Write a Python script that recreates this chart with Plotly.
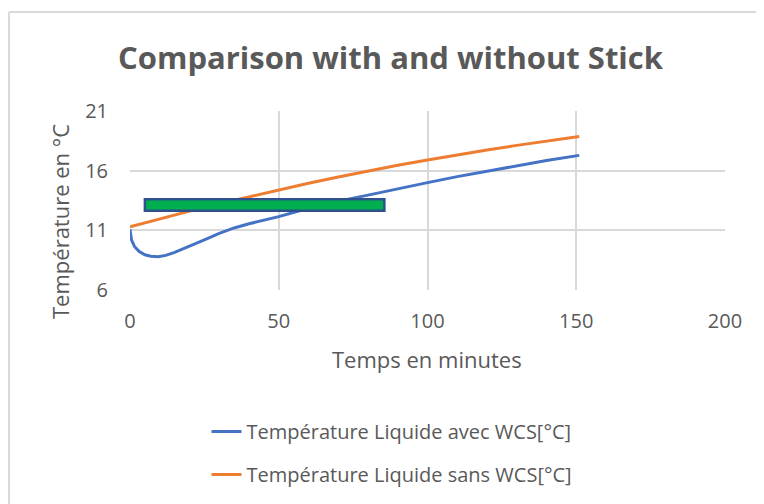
import plotly.graph_objects as go

# ---- data ----
blue_x = [0, 0.5, 1.5, 3, 5, 7, 9.5, 12, 15, 20, 25, 30, 35, 40, 45, 50, 60, 70, 80, 90, 100, 110, 120, 130, 140, 151]
blue_y = [11.1, 10.2, 9.65, 9.25, 8.95, 8.83, 8.78, 8.9, 9.15, 9.65, 10.2, 10.75, 11.2, 11.55, 11.85, 12.15, 12.85,
          13.45, 13.95, 14.5, 15.0, 15.5, 15.95, 16.4, 16.85, 17.28]
orange_x = [0, 10, 20, 30, 40, 50, 60, 70, 80, 90, 100, 110, 120, 130, 140, 151]
orange_y = [11.3, 11.97, 12.61, 13.23, 13.82, 14.39, 14.94, 15.47, 15.97, 16.45, 16.9, 17.33, 17.74, 18.12, 18.48,
            18.86]
stick_x = [5, 85.5]
stick_y = [12.65, 13.6]
x_ticks = [0, 50, 100, 150, 200]
y_ticks = [6, 11, 16, 21]
name_blue = "Température Liquide avec WCS[°C]"
name_orange = "Température Liquide sans WCS[°C]"

FONT = "Open Sans"
GREY = "#595959"
GRID = "#D9D9D9"

fig = go.Figure()
fig.add_trace(go.Scatter(x=blue_x, y=blue_y, mode="lines", name=name_blue, legendgroup="a",
                         line=dict(color="#4472C4", width=3)))
fig.add_trace(go.Scatter(x=orange_x, y=orange_y, mode="lines", name=name_orange, legendgroup="b",
                         line=dict(color="#ED7D31", width=3)))

fig.add_shape(type="rect", xref="x", yref="y", x0=stick_x[0], x1=stick_x[1], y0=stick_y[0], y1=stick_y[1],
              fillcolor="#00B050", line=dict(color="#2F528F", width=2.5), layer="above")

OFF = 8  # page body margin
W, H = 764 - OFF, 504 - OFF
L, T = 130 - OFF, 111 - OFF
R = W - (725 - OFF)
B = H - (290 - OFF)
pw, ph = W - L - R, H - T - B


def px2x(px):
    return (px - OFF - L) / pw


def py2y(py):
    return (H - B - (py - OFF)) / ph


# chart frame (left and top borders)
fig.add_shape(type="line", xref="paper", yref="paper", x0=px2x(9), x1=px2x(9), y0=py2y(12), y1=py2y(520),
              line=dict(color=GRID, width=2))
fig.add_shape(type="line", xref="paper", yref="paper", x0=px2x(9), x1=px2x(780), y0=py2y(12), y1=py2y(12),
              line=dict(color=GRID, width=2))

fig.add_annotation(text="<b>Comparison with and without Stick</b>", xref="paper", yref="paper",
                   x=px2x(391), y=py2y(57), xanchor="center", yanchor="middle", showarrow=False,
                   font=dict(family=FONT, size=31, color=GREY))
fig.add_annotation(text="Temps en minutes", xref="paper", yref="paper", x=px2x(427), y=py2y(359),
                   xanchor="center", yanchor="middle", showarrow=False,
                   font=dict(family=FONT, size=22, color=GREY))
fig.add_annotation(text="Température en °C", xref="paper", yref="paper", x=px2x(60), y=py2y(222),
                   xanchor="center", yanchor="middle", textangle=-90, showarrow=False,
                   font=dict(family=FONT, size=22, color=GREY))

fig.update_xaxes(range=[0, 200], tickvals=x_ticks, showgrid=True, gridcolor=GRID, gridwidth=1.6,
                 zeroline=False, showline=False, ticks="outside", ticklen=13, tickcolor="rgba(0,0,0,0)",
                 tickfont=dict(family=FONT, size=20, color=GREY), fixedrange=True)
fig.update_yaxes(range=[6, 21], tickvals=y_ticks, showgrid=True, gridcolor=GRID, gridwidth=1.6,
                 zeroline=False, showline=False, ticks="outside", ticklen=17, tickcolor="rgba(0,0,0,0)",
                 tickfont=dict(family=FONT, size=20, color=GREY), fixedrange=True)

fig.update_layout(
    width=W, height=H,
    margin=dict(l=L, r=R, t=T, b=B, autoexpand=False),
    paper_bgcolor="white", plot_bgcolor="white",
    showlegend=True,
    legend=dict(x=px2x(392), xanchor="center", y=py2y(412), yanchor="top",
                font=dict(family=FONT, size=20, color=GREY), tracegroupgap=14,
                bgcolor="rgba(0,0,0,0)"),
)

fig.write_html("out.html")
